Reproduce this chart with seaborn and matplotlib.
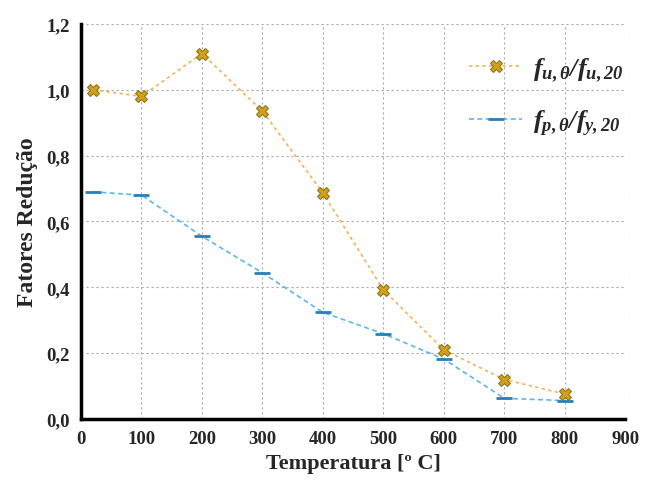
import numpy as np
import pandas as pd
import matplotlib
matplotlib.use("Agg")
import matplotlib.pyplot as plt
import seaborn as sns

# dados
temperatura = [20, 100, 200, 300, 400, 500, 600, 700, 800]
fu_ratio = [1.00, 0.98, 1.11, 0.935, 0.687, 0.392, 0.21, 0.12, 0.076]
fp_ratio = [0.69, 0.68, 0.555, 0.444, 0.324, 0.259, 0.182, 0.063, 0.056]

x_ticks = [0, 100, 200, 300, 400, 500, 600, 700, 800, 900]
y_ticks = [0.0, 0.2, 0.4, 0.6, 0.8, 1.0, 1.2]
y_ticklabels = ["0,0", "0,2", "0,4", "0,6", "0,8", "1,0", "1,2"]

label_fu = r"$f_{u,\theta}/f_{u,20}$"
label_fp = r"$f_{p,\theta}/f_{y,20}$"

sns.set_theme(style="white")
plt.rcParams['font.family'] = ['Liberation Serif', 'DejaVu Serif']
plt.rcParams['mathtext.fontset'] = 'custom'
plt.rcParams['mathtext.it'] = 'Liberation Serif:italic:bold'
plt.rcParams['mathtext.rm'] = 'Liberation Serif:italic:bold'
plt.rcParams['mathtext.bf'] = 'Liberation Serif:italic:bold'

df = pd.DataFrame({'T': temperatura, 'fu': fu_ratio, 'fp': fp_ratio})

fig = plt.figure(figsize=(6.48, 4.89), dpi=100)
ax = fig.add_axes([0.125, 0.141, 0.84, 0.808])

sns.lineplot(data=df, x='T', y='fu', ax=ax, color='#F2B35A', linestyle=(0, (2, 2)),
             linewidth=1.2, marker='X', markersize=9, markerfacecolor='#D4A017',
             markeredgecolor='#8A7A20', markeredgewidth=0.8, label=label_fu)
sns.lineplot(data=df, x='T', y='fp', ax=ax, color='#5DB8E6', linestyle=(0, (3, 2)),
             linewidth=1.2, marker='_', markersize=11, markeredgecolor='#2A7FB8',
             markeredgewidth=2.0, label=label_fp)

ax.set_xlim(0, 900)
ax.set_ylim(0, 1.2)
ax.set_xticks(x_ticks)
ax.set_yticks(y_ticks)
ax.set_yticklabels(y_ticklabels)
ax.tick_params(axis='both', labelsize=13.5, length=0, pad=8)
for lbl in ax.get_xticklabels() + ax.get_yticklabels():
    lbl.set_fontweight('bold')

ax.grid(True, color='#AAAAAA', linestyle=(0, (2, 2.5)), linewidth=0.8)
for side in ['top', 'right']:
    ax.spines[side].set_visible(False)
ax.spines['left'].set_linewidth(2.5)
ax.spines['left'].set_color('black')
ax.spines['bottom'].set_linewidth(2.5)
ax.spines['bottom'].set_color('black')

ax.set_xlabel('Temperatura [º C]', fontsize=16, fontweight='bold', labelpad=4)
ax.set_ylabel('Fatores Redução', fontsize=17, fontweight='bold', labelpad=6)

leg = ax.legend(loc='upper right', bbox_to_anchor=(1.04, 0.98), frameon=False,
                fontsize=19, handlelength=2.0, labelspacing=0.9, handletextpad=0.4)

fig.savefig('out.png', dpi=100)
